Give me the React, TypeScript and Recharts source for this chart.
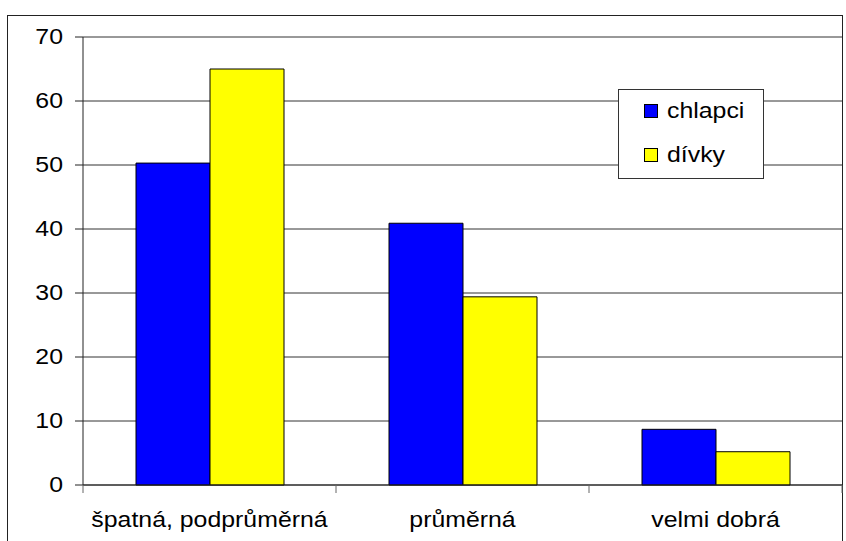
import React from "react";
import { BarChart, Bar, XAxis, YAxis, CartesianGrid, Legend } from "recharts";

const categories = ["špatná, podprůměrná", "průměrná", "velmi dobrá"];
const chlapci = [50.3, 40.9, 8.7];
const divky = [65.0, 29.4, 5.2];
const yTicks = [0, 10, 20, 30, 40, 50, 60, 70];

const seriesInfo = [
  { key: "chlapci", label: "chlapci", color: "#0000FF" },
  { key: "divky", label: "dívky", color: "#FFFF00" },
];

const data = categories.map((name, i) => ({ name, chlapci: chlapci[i], divky: divky[i] }));

const FONT = "'Liberation Sans', Arial, sans-serif";
const STRETCH = 1.13;

function YTick({ x, y, payload }: any) {
  return (
    <g transform={`translate(${x},${y}) scale(${STRETCH},1)`}>
      <text x={0} y={0} dy={7} textAnchor="end" fontSize={22} fontFamily={FONT} fill="#000">
        {payload.value}
      </text>
    </g>
  );
}

// Excel style: tick marks sit on the category boundaries, labels in the middle
function XTick({ x, y, payload, index, visibleTicksCount }: any) {
  const half = payload.offset || 0;
  const last = index === visibleTicksCount - 1;
  return (
    <g>
      <line x1={x - half} x2={x - half} y1={y} y2={y + 8} stroke="#666" />
      {last && <line x1={x + half} x2={x + half} y1={y} y2={y + 8} stroke="#666" />}
      <g transform={`translate(${x},${y}) scale(${STRETCH},1)`}>
        <text x={0} y={0} dy={42} textAnchor="middle" fontSize={22} fontFamily={FONT} fill="#000">
          {payload.value}
        </text>
      </g>
    </g>
  );
}

function LegendBox() {
  return (
    <div
      style={{
        width: 144,
        height: 88,
        border: "1px solid #333",
        background: "#fff",
        boxSizing: "content-box",
        position: "relative",
      }}
    >
      {seriesInfo.map((s, i) => (
        <div key={s.key} style={{ position: "absolute", left: 25, top: 13 + i * 44, height: 16, display: "flex", alignItems: "center" }}>
          <span
            style={{
              display: "inline-block",
              width: 12,
              height: 12,
              background: s.color,
              border: "1px solid #000",
            }}
          />
          <span
            style={{
              display: "inline-block",
              marginLeft: 9,
              fontSize: 22,
              fontFamily: FONT,
              lineHeight: "16px",
              color: "#000",
              transform: `scaleX(${STRETCH})`,
              transformOrigin: "left center",
            }}
          >
            {s.label}
          </span>
        </div>
      ))}
    </div>
  );
}

export default function App() {
  return (
    <div style={{ position: "fixed", left: 0, top: 0, width: 846, height: 541, overflow: "hidden", background: "#fff", fontFamily: FONT }}>
      <div
        style={{
          position: "absolute",
          left: 7,
          top: 15,
          width: 834,
          height: 560,
          border: "1px solid #222",
        }}
      />
      <div style={{ position: "absolute", left: 0, top: 0 }}>
        <BarChart
          width={846}
          height={533}
          data={data}
          margin={{ top: 37, right: 4, bottom: 0, left: 0 }}
          barGap={0}
          barSize={74}
        >
          <CartesianGrid vertical={false} stroke="#333" />
          <XAxis
            dataKey="name"
            axisLine={{ stroke: "#222" }}
            tickLine={false}
            tickSize={0}
            tickMargin={0}
            tick={<XTick />}
            height={48}
            interval={0}
          />
          <YAxis
            domain={[0, 70]}
            ticks={yTicks}
            axisLine={{ stroke: "#222" }}
            tickLine={{ stroke: "#222" }}
            tickSize={8}
            tickMargin={12}
            tick={<YTick />}
            width={83}
            interval={0}
          />
          <Legend
            layout="horizontal"
            verticalAlign="middle"
            align="center"
            content={() => <LegendBox />}
            wrapperStyle={{ position: "absolute", left: 618, top: 89, width: 146, height: 90 }}
          />
          {seriesInfo.map((s) => (
            <Bar
              key={s.key}
              dataKey={s.key}
              name={s.label}
              fill={s.color}
              stroke="#000"
              strokeWidth={1}
              isAnimationActive={false}
            />
          ))}
        </BarChart>
      </div>
    </div>
  );
}
